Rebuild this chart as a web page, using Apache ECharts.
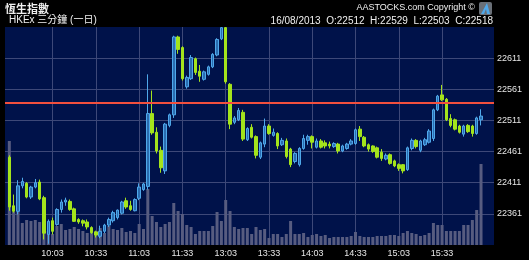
<!DOCTYPE html>
<html>
<head>
<meta charset="utf-8">
<script src="https://cdn.jsdelivr.net/npm/echarts@6/dist/echarts.min.js"></script>
<style>
html,body{margin:0;padding:0;background:#000;}
#chart{width:529px;height:260px;}
</style>
</head>
<body>
<div id="chart"></div>
<script>
// 3-minute candle times (HSI, 16/08/2013)
var times = [
"09:33","09:36","09:39","09:42","09:45","09:48","09:51","09:54","09:57","10:00",
"10:03","10:06","10:09","10:12","10:15","10:18","10:21","10:24","10:27","10:30",
"10:33","10:36","10:39","10:42","10:45","10:48","10:51","10:54","10:57","11:00",
"11:03","11:06","11:09","11:12","11:15","11:18","11:21","11:24","11:27","11:30",
"11:33","11:36","11:39","11:42","11:45","11:48","11:51","11:54","11:57","12:00",
"13:03","13:06","13:09","13:12","13:15","13:18","13:21","13:24","13:27","13:30",
"13:33","13:36","13:39","13:42","13:45","13:48","13:51","13:54","13:57","14:00",
"14:03","14:06","14:09","14:12","14:15","14:18","14:21","14:24","14:27","14:30",
"14:33","14:36","14:39","14:42","14:45","14:48","14:51","14:54","14:57","15:00",
"15:03","15:06","15:09","15:12","15:15","15:18","15:21","15:24","15:27","15:30",
"15:33","15:36","15:39","15:42","15:45","15:48","15:51","15:54","15:57","16:00"
];
var openVals = [
22452,22374,22365,22406,22410,22388,22404,22412,22387,22328,
22350,22344,22368,22380,22381,22369,22352,22350,22348,22339,
22332,22325,22333,22343,22350,22355,22362,22382,22374,22366,
22386,22400,22405,22522,22492,22463,22430,22503,22520,22645,
22628,22565,22578,22610,22590,22577,22585,22597,22616,22642,
22660,22569,22508,22512,22524,22480,22500,22485,22452,22473,
22502,22487,22490,22472,22478,22465,22445,22440,22466,22479,
22485,22468,22478,22475,22473,22469,22473,22462,22466,22473,
22474,22497,22484,22472,22470,22467,22460,22449,22456,22446,
22440,22440,22432,22466,22479,22463,22472,22476,22482,22528,
22552,22545,22514,22512,22502,22489,22503,22502,22490,22512
];
var highVals = [
22455,22392,22415,22419,22412,22406,22417,22416,22390,22352,
22355,22370,22384,22387,22384,22371,22354,22352,22352,22341,
22334,22342,22345,22355,22366,22368,22382,22387,22382,22386,
22410,22411,22585,22559,22500,22469,22507,22522,22647,22647,
22630,22583,22616,22612,22600,22591,22599,22619,22643,22661,
22661,22571,22518,22531,22528,22500,22505,22487,22477,22514,
22505,22498,22492,22483,22482,22467,22460,22468,22488,22488,
22487,22482,22481,22479,22477,22476,22475,22472,22475,22481,
22498,22502,22486,22474,22471,22469,22465,22458,22458,22448,
22442,22441,22469,22482,22481,22480,22483,22497,22530,22552,
22568,22547,22521,22514,22504,22504,22505,22504,22517,22529
];
var lowVals = [
22366,22363,22360,22402,22386,22385,22402,22383,22320,22313,
22328,22342,22363,22374,22366,22348,22345,22341,22336,22329,
22323,22322,22330,22340,22347,22352,22360,22369,22366,22365,
22383,22398,22400,22488,22458,22427,22425,22500,22515,22618,
22575,22562,22576,22584,22573,22575,22583,22595,22614,22640,
22570,22497,22505,22510,22478,22478,22482,22450,22449,22468,
22488,22485,22465,22470,22450,22436,22442,22437,22464,22472,
22466,22466,22466,22466,22466,22467,22458,22460,22464,22471,
22472,22478,22468,22461,22459,22450,22446,22447,22440,22436,
22430,22426,22430,22463,22466,22460,22470,22474,22478,22526,
22542,22510,22500,22495,22490,22485,22491,22485,22488,22503
];
var closeVals = [
22372,22365,22406,22413,22388,22404,22411,22385,22330,22349,
22333,22368,22380,22383,22368,22349,22348,22346,22340,22331,
22327,22333,22343,22352,22363,22367,22380,22372,22368,22384,
22404,22409,22522,22491,22462,22435,22505,22520,22645,22625,
22578,22580,22612,22588,22582,22589,22597,22617,22641,22660,
22573,22505,22515,22527,22481,22498,22484,22455,22475,22502,
22490,22492,22470,22479,22453,22440,22458,22466,22482,22485,
22476,22478,22468,22470,22470,22474,22462,22470,22473,22478,
22496,22485,22470,22465,22461,22452,22450,22455,22442,22438,
22434,22430,22467,22479,22469,22478,22480,22494,22528,22550,
22544,22512,22503,22497,22492,22502,22493,22490,22515,22518
];
var volumes = [
104,33,33,22,25,24,25,23,28,14,
11,19,21,15,16,18,16,14,12,15,
14,17,12,19,16,15,17,13,14,12,
21,16,56,29,23,18,21,23,42,34,
31,20,18,11,14,14,14,19,33,24,
45,34,18,16,17,17,11,18,15,16,
7,11,11,8,11,24,11,11,12,8,
10,11,9,10,7,8,8,8,8,9,
13,9,8,8,8,9,9,9,10,10,
9,12,14,12,11,9,10,12,22,20,
20,14,14,14,14,20,20,25,35,81
];
var prevClose = 22539;
var xTickLabels = ["10:03","10:33","11:03","11:33","13:03","13:33","14:03","14:33","15:03","15:33"];
var yMin = 22311, yMax = 22661, yStep = 50;

var cats = [''].concat(times, ['', '', '']);
var candleData = ['-'].concat(times.map(function (t, i) {
  return [openVals[i], closeVals[i], lowVals[i], highVals[i]];
}), ['-', '-', '-']);
var volData = ['-'].concat(volumes, ['-', '-', '-']);

var showTick = function (idx, val) { return xTickLabels.indexOf(val) >= 0; };
var FONT = '"Liberation Sans", Arial, "Noto Sans CJK TC", sans-serif';

var chart = echarts.init(document.getElementById('chart'), null, {renderer: 'canvas'});
chart.setOption({
  backgroundColor: '#000000',
  animation: false,
  grid: {
    left: 5, right: 35, top: 27, bottom: 15,
    show: true, backgroundColor: '#00124a', borderWidth: 0
  },
  xAxis: {
    type: 'category',
    data: cats,
    boundaryGap: false,
    axisLine: {show: false},
    axisTick: {show: false},
    axisLabel: {
      interval: showTick, color: '#e6e6e6', fontSize: 9, fontFamily: FONT, margin: 4
    },
    splitLine: {show: true, interval: showTick, lineStyle: {color: '#3d4878', width: 1}}
  },
  yAxis: [{
    type: 'value',
    position: 'right',
    min: yMin, max: yMax, interval: yStep,
    axisLine: {show: false},
    axisTick: {show: false},
    axisLabel: {
      color: '#e6e6e6', fontSize: 9, fontFamily: FONT, margin: 3,
      showMinLabel: false, showMaxLabel: false,
      formatter: function (v) { return String(Math.round(v)); }
    },
    splitLine: {show: true, showMinLine: false, showMaxLine: false, lineStyle: {color: '#3d4878', width: 1}}
  }, {
    type: 'value',
    min: 0, max: 218,
    show: false,
    splitLine: {show: false}
  }],
  series: [{
    type: 'bar',
    yAxisIndex: 1,
    data: volData,
    barWidth: 3,
    itemStyle: {color: '#575c80'},
    z: 1,
    silent: true
  }, {
    type: 'candlestick',
    data: candleData,
    barWidth: 3,
    itemStyle: {
      color: '#2a6cb0', borderColor: '#4fa8ea',
      color0: '#a4e41c', borderColor0: '#a4e41c', borderWidth: 1
    },
    z: 3,
    markLine: {
      silent: true,
      symbol: ['none', 'none'],
      label: {show: false},
      lineStyle: {color: '#f2503e', width: 2, type: 'solid'},
      data: [{yAxis: prevClose}]
    }
  }],
  graphic: [
    {type: 'text', left: 5, top: 3, style: {text: '恆生指數', fill: '#f0f0f0', font: 'bold 11px "Noto Sans CJK TC", sans-serif'}},
    {type: 'text', left: 9, top: 15, style: {text: 'HKEx 三分鐘 (一日)', fill: '#f0f0f0', font: '10px ' + FONT}},
    {type: 'text', right: 54, top: 3, style: {text: 'AASTOCKS.com Copyright ©', fill: '#f0f0f0', font: '9px ' + FONT}},
    {type: 'text', right: 36, top: 16, style: {text: '16/08/2013  O:22512  H:22529  L:22503  C:22518', fill: '#f0f0f0', font: '10px ' + FONT}},
    {type: 'rect', left: 479, top: 2, shape: {width: 13, height: 13, r: 2}, style: {fill: '#6a7078'}},
    {type: 'polygon', shape: {points: [[481, 14], [487, 3], [490, 14], [487, 14], [486, 9], [484, 14]]}, style: {fill: '#4fa8ea'}}
  ]
});
</script>
</body>
</html>
